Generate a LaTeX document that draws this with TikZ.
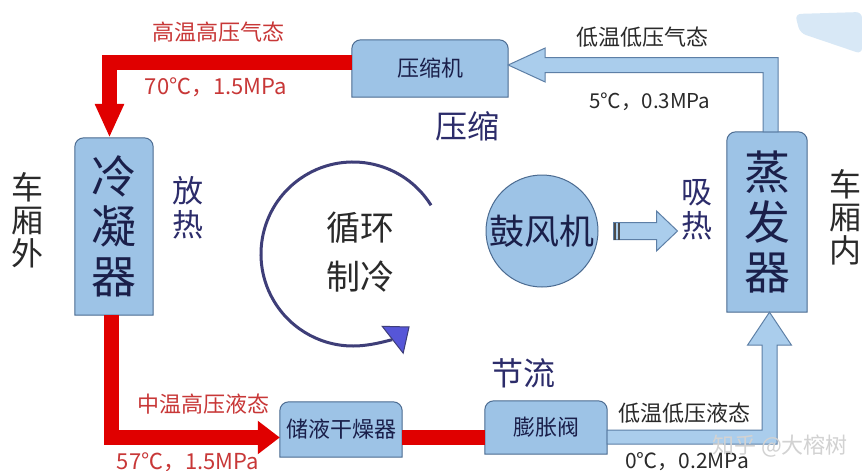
\documentclass[tikz,border=0pt]{standalone}
\usepackage{fontspec}
\setmainfont{Noto Sans CJK SC}
\usetikzlibrary{arrows.meta,calc,backgrounds}
\newcommand\fsz[2]{\fontsize{#1}{#2}\selectfont}
\definecolor{boxfill}{HTML}{9DC3E6}
\definecolor{boxdraw}{HTML}{4A6A90}
\definecolor{boxtext}{HTML}{1A1F4A}
\definecolor{pipered}{HTML}{E00000}
\definecolor{labred}{HTML}{C83737}
\definecolor{pipeblue}{HTML}{AACDEC}
\definecolor{pipeblueline}{HTML}{5D7FA6}
\definecolor{labnavy}{HTML}{2C2C6A}
\definecolor{labdark}{HTML}{2A2A2A}
\definecolor{cycline}{HTML}{3E3E78}
\definecolor{cyctip}{HTML}{5656D8}
\definecolor{blobblue}{HTML}{D8E8F6}
\begin{document}
\begin{tikzpicture}[x=1pt,y=-1pt,
  box/.style={inner sep=0pt, align=center, text=boxtext},
  boxshape/.style={fill=boxfill, draw=boxdraw, line width=1pt},
  redpipe/.style={draw=pipered, line width=15pt, line join=miter},
  bluepipe/.style={fill=pipeblue, draw=pipeblueline, line width=1pt, line join=miter},
  redlab/.style={text=labred, font=\fsz{22}{24}, inner sep=0pt},
  darklab/.style={text=labdark, font=\fsz{22}{24}, inner sep=0pt},
  navylab/.style={text=labnavy, inner sep=0pt, align=center},
  sidelab/.style={text=labdark, inner sep=0pt, align=center, font=\fsz{32}{33}},
  cyc/.style={draw=cycline, line width=3pt}
]
\useasboundingbox (0,0) rectangle (862,471);

% components
\node[box, minimum width=156pt, minimum height=57pt, font=\fsz{22}{26}] (comp) at (430,68.5) {压缩机};
\node[box, minimum width=78pt, minimum height=177pt, font=\fsz{45}{50}] (cond) at (114,226.5) {冷\\凝\\器};
\node[box, minimum width=80pt, minimum height=180pt, font=\fsz{46}{50}] (evap) at (767,222) {蒸\\发\\器};
\node[box, minimum width=122pt, minimum height=55pt, font=\fsz{22}{26}] (drier) at (341,429.5) {储液干燥器};
\node[box, minimum width=122pt, minimum height=53pt, font=\fsz{22}{26}] (valve) at (546,427.5) {膨胀阀};
\node[circle, fill=boxfill, draw=boxdraw, line width=1pt, minimum size=112pt, inner sep=0pt, text=boxtext, font=\fsz{35}{38}] (fan) at (542,231) {鼓风机};

\begin{scope}[on background layer]
  \fill[white] (0,0) rectangle (862,471);
  \fill[blobblue, rounded corners=6pt] (795,14) -- (862,12) -- (862,54) -- (800,33) -- cycle;
  \foreach \n in {comp,cond,evap,drier,valve}
    \draw[boxshape] (\n.south west) [rounded corners=9pt] -- (\n.north west) -- (\n.north east) [sharp corners] -- (\n.south east) -- cycle;
\end{scope}

% red (high pressure) pipes
\draw[redpipe, -{Triangle[width=27pt,length=34pt]}] ([yshift=6pt]comp.west) -| ([xshift=-4.5pt]cond.north);
\draw[redpipe, -{Triangle[width=32pt,length=22pt]}] ([xshift=-2.5pt]cond.south) |- ([yshift=-8pt]drier.west);
\draw[redpipe] ([yshift=-8pt]drier.east) -- ([yshift=-8pt]drier.east -| valve.west);

% blue (low pressure) pipes
\draw[bluepipe] let \p1=([yshift=3.5pt]comp.east), \p2=([xshift=3.5pt]evap.north) in
  (\p1) -- (\x1+37pt,\y1+17pt) -- (\x1+37pt,\y1+7.5pt) -- (\x2+7.5pt,\y1+7.5pt)
  -- (\x2+7.5pt,\y2) -- (\x2-7.5pt,\y2) -- (\x2-7.5pt,\y1-7.5pt)
  -- (\x1+37pt,\y1-7.5pt) -- (\x1+37pt,\y1-17pt) -- cycle;
\draw[bluepipe] let \p1=([yshift=-9.5pt]valve.east), \p2=([xshift=2.5pt]evap.south) in
  (\x1,\y1+7pt) -- (\x2-7.5pt,\y1+7pt) -- (\x2-7.5pt,\y2-33pt) -- (\x2-22pt,\y2-33pt)
  -- (\p2) -- (\x2+22pt,\y2-33pt) -- (\x2+7.5pt,\y2-33pt) -- (\x2+7.5pt,\y1-7pt)
  -- (\x1,\y1-7pt) -- cycle;

% fan arrow
\draw[bluepipe] let \p1=(fan.east) in
  (\x1+15pt,\y1+8.5pt) -- (\x1+58pt,\y1+8.5pt) -- (\x1+58pt,\y1+20pt) -- (\x1+79pt,\y1)
  -- (\x1+58pt,\y1-20pt) -- (\x1+58pt,\y1-8.5pt) -- (\x1+15pt,\y1-8.5pt) -- cycle;
\draw[black!70, line width=2pt] let \p1=(fan.east) in
  (\x1+16pt,\y1+8.5pt) -- (\x1+16pt,\y1-8.5pt)
  (\x1+20.5pt,\y1+8.5pt) -- (\x1+20.5pt,\y1-8.5pt);

% cycle arrow
\node[text=labdark, align=center, font=\fsz{34}{49}, inner sep=0pt] (cycle) at (360,252) {循环\\制冷};
\draw[cyc, -{Triangle[width=36pt,length=22pt,fill=cyctip,line width=1pt]}]
  ([shift={(32:92pt)}]353,254) arc[start angle=32, end angle=308, radius=92pt];

% labels
\node[redlab] (l1) at (218,32) {高温高压气态};
\node[redlab] (l2) at (216,87) {70℃，1.5MPa};
\node[darklab] (l3) at (642,37) {低温低压气态};
\node[darklab, font=\fsz{20.5}{24}] (l4) at (650,102) {5℃，0.3MPa};
\node[redlab] (l5) at (203,404) {中温高压液态};
\node[redlab] (l6) at (188,462) {57℃，1.5MPa};
\node[darklab] (l7) at (684,413) {低温低压液态};
\node[darklab, font=\fsz{21}{24}] (l8) at (687,462) {0℃，0.2MPa};

\node[navylab, font=\fsz{32}{36}] (ys) at (467,126) {压缩};
\node[navylab, font=\fsz{32}{36}] (jl) at (523,373) {节流};
\node[navylab, font=\fsz{31}{34}] (fr) at (188,208) {放\\热};
\node[navylab, font=\fsz{31}{34}] (xr) at (697,210) {吸\\热};

\node[sidelab] (out) at (28,220) {车\\厢\\外};
\node[sidelab] (in) at (845,217) {车\\厢\\内};

\node[text=gray!35, font=\fsz{22}{24}, inner sep=0pt] (wm) at (780,446) {知乎 @大榕树};
\end{tikzpicture}
\end{document}
